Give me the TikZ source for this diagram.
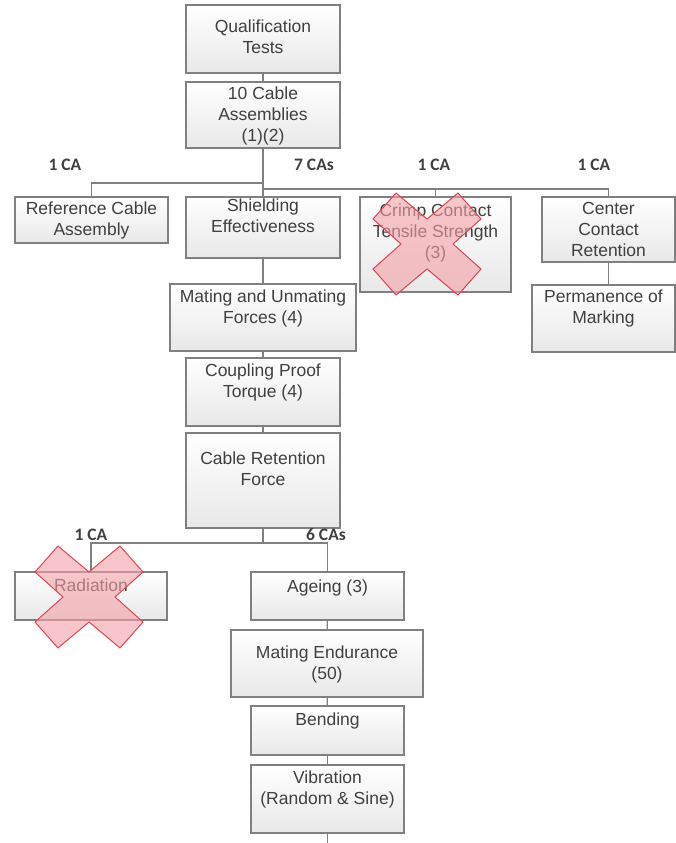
\documentclass[tikz,border=0pt]{standalone}
\usepackage{fontspec}
\setmainfont{Liberation Sans}
\newfontfamily\cafont{Carlito}
\usetikzlibrary{fit}

\definecolor{boxline}{RGB}{128,128,128}
\definecolor{boxtext}{RGB}{64,64,64}
\definecolor{xred}{RGB}{222,70,80}
\definecolor{xpink}{RGB}{244,160,166}

\tikzset{
  box/.style={draw=boxline, line width=1.3pt, top color=white, bottom color=gray!18, inner sep=0pt},
  boxtxt/.style={text=boxtext, align=center, font=\fontsize{17.5}{21}\selectfont, inner sep=0pt, anchor=base},
  link/.style={draw=boxline, line width=1.3pt},
  count/.style={text=boxtext, font=\cafont\bfseries\fontsize{17.5}{19}\selectfont, inner sep=0pt},
  cross/.style={draw=xred, line width=1pt, fill=xpink, fill opacity=0.6, line join=miter}
}

% name, x1, y1, x2, y2, baseline of last line, text
\newcommand{\testbox}[7]{%
  \node[box, fit={(#2,#3) (#4,#5)}] (#1) {};
  \node[boxtxt] (#1-t) at ({(#2+#4)/2},#6) {#7};}

\newcommand{\crossout}[2]{%
  \draw[cross, shift={(#1,#2)}] (-31,-51) -- (0,-25) -- (31,-51) -- (54,-25) -- (26,0)
    -- (54,25) -- (31,51) -- (0,25) -- (-31,51) -- (-54,25) -- (-26,0) -- (-54,-25) -- cycle;}

\begin{document}
\begin{tikzpicture}[x=1pt, y=-1pt]
  \useasboundingbox (0,0) rectangle (676,843);

  \testbox{qual}{186}{5}{340}{73}{54}{Qualification\\Tests}
  \testbox{cables}{186}{82}{340}{148}{141}{10 Cable\\Assemblies\\(1)(2)}
  \testbox{refca}{15}{197}{168}{243}{235}{Reference Cable\\Assembly}
  \testbox{shield}{186}{197}{340}{258}{232}{Shielding\\Effectiveness}
  \testbox{crimp}{360}{197}{511}{292}{258}{Crimp Contact\\Tensile Strength\\(3)}
  \testbox{center}{542}{197}{675}{262}{256}{Center\\Contact\\Retention}
  \testbox{perm}{532}{285}{675}{352}{323}{Permanence of\\Marking}
  \testbox{mating}{170}{284}{356}{351}{323}{Mating and Unmating\\Forces (4)}
  \testbox{coupling}{186}{358}{340}{426}{397}{Coupling Proof\\Torque (4)}
  \testbox{retention}{186}{433}{340}{528}{485}{Cable Retention\\Force}
  \testbox{radiation}{15}{572}{167}{620}{591}{Radiation}
  \testbox{ageing}{251}{572}{404}{620}{592}{Ageing (3)}
  \testbox{endurance}{231}{630}{423}{697}{679}{Mating Endurance\\(50)}
  \testbox{bending}{251}{706}{404}{755}{725}{Bending}
  \testbox{vibration}{251}{765}{404}{833}{804}{Vibration\\(Random \& Sine)}

  \node[count] (n1) at (65,165) {1 CA};
  \node[count] (n2) at (314,165) {7 CAs};
  \node[count] (n3) at (434,165) {1 CA};
  \node[count] (n4) at (594,165) {1 CA};
  \node[count] (n5) at (91,535) {1 CA};
  \node[count] (n6) at (326,535) {6 CAs};

  \coordinate (busl) at (263,183);
  \coordinate (busr) at (263,189);
  \coordinate (busb) at (263,543);
  \coordinate (out) at (327.5,843);

  \draw[link] (qual) -- (cables);
  \draw[link] (cables) -- (shield);
  \draw[link] (busl) -| (refca);
  \draw[link] (busr) -| (crimp);
  \draw[link] (busr) -| (center);
  \draw[link] (center.south) -- (center.south |- perm.north);
  \draw[link] (shield) -- (mating);
  \draw[link] (mating) -- (coupling);
  \draw[link] (coupling) -- (retention);
  \draw[link] (retention) -- (busb);
  \draw[link] (busb) -| (radiation);
  \draw[link] (busb) -| (ageing);
  \draw[link] (ageing) -- (endurance);
  \draw[link] (endurance) -- (bending);
  \draw[link] (bending) -- (vibration);
  \draw[link] (vibration) -- (out);

  \crossout{427}{244}
  \crossout{89}{597}
\end{tikzpicture}
\end{document}
